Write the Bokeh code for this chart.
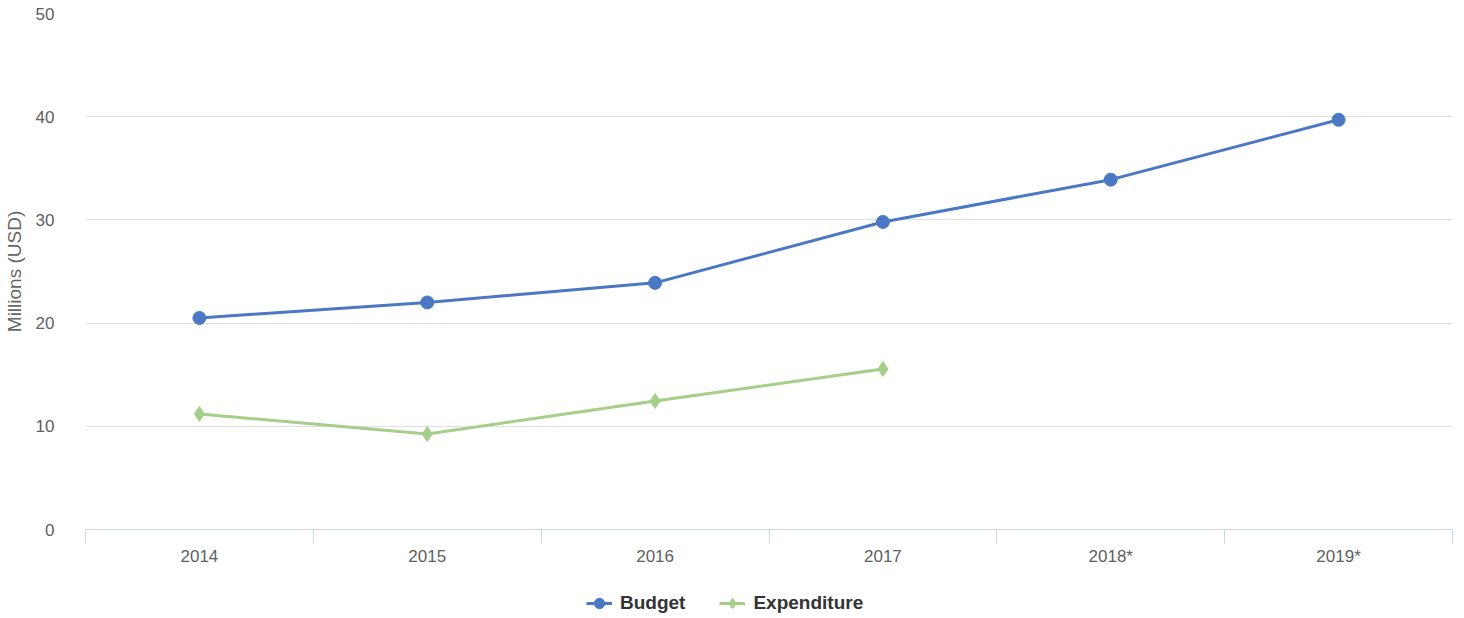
from bokeh.plotting import figure
from bokeh.layouts import column
from bokeh.models import FixedTicker, Legend, LegendItem, Range1d, ColumnDataSource
from bokeh.embed import file_html
from bokeh.resources import INLINE

years = ["2014", "2015", "2016", "2017", "2018*", "2019*"]
budget = [20.5, 22.0, 23.9, 29.8, 33.9, 39.7]
expenditure = [11.2, 9.25, 12.45, 15.55]
y_ticks = [0, 10, 20, 30, 40, 50]

FONT = "Liberation Sans"
BLUE = "#4a78c4"
GREEN = "#a5cf88"

xpos = [i + 0.5 for i in range(len(years))]

p = figure(width=1464, height=575, output_backend="svg", toolbar_location=None,
           x_range=Range1d(0, len(years)), y_range=Range1d(0, 50),
           min_border_left=85, min_border_right=12, min_border_top=13,
           min_border_bottom=46)
p.outline_line_color = None
p.background_fill_color = "white"

src_b = ColumnDataSource(dict(x=xpos, y=budget))
src_e = ColumnDataSource(dict(x=xpos[:len(expenditure)], y=expenditure))

p.line("x", "y", source=src_b, line_color=BLUE, line_width=3)
p.scatter("x", "y", source=src_b, marker="circle", size=13, fill_color=BLUE, line_color=BLUE)
p.line("x", "y", source=src_e, line_color=GREEN, line_width=3)
p.scatter("x", "y", source=src_e, marker="diamond", size=15, fill_color=GREEN, line_color=GREEN)

# x axis
xa = p.xaxis[0]
xa.ticker = FixedTicker(ticks=xpos, minor_ticks=list(range(len(years) + 1)))
xa.major_label_overrides = {x: y for x, y in zip(xpos, years)}
xa.major_tick_line_color = None
xa.major_tick_out = 6
xa.minor_tick_line_color = "#ccd6eb"
xa.minor_tick_in = 0
xa.minor_tick_out = 14
xa.axis_line_color = "#ccd6eb"
xa.axis_line_width = 1
xa.major_label_text_font = FONT
xa.major_label_text_font_size = "17px"
xa.major_label_text_color = "#606060"
xa.major_label_standoff = 3
p.xgrid.grid_line_color = None

# y axis
ya = p.yaxis[0]
ya.ticker = FixedTicker(ticks=y_ticks)
ya.axis_line_color = None
ya.major_tick_line_color = None
ya.minor_tick_line_color = None
ya.major_label_text_font = FONT
ya.major_label_text_font_size = "17px"
ya.major_label_text_color = "#606060"
ya.major_label_standoff = 25
ya.axis_label = "Millions (USD)"
ya.axis_label_text_font = FONT
ya.axis_label_text_font_size = "19px"
ya.axis_label_text_font_style = "normal"
ya.axis_label_text_color = "#666666"
ya.axis_label_standoff = 8
p.ygrid.grid_line_color = "#e0e0e0"
p.ygrid.grid_line_width = 1

# legend strip (same series, drawn outside its visible range so only the legend shows)
lg = figure(width=1464, height=56, output_backend="svg", toolbar_location=None,
            x_range=Range1d(-100, -99), y_range=Range1d(-100, -99),
            x_axis_type=None, y_axis_type=None,
            min_border_left=0, min_border_right=0, min_border_top=0, min_border_bottom=0)
lg.outline_line_color = None
lg.xgrid.grid_line_color = None
lg.ygrid.grid_line_color = None
lb = lg.line("x", "y", source=src_b, line_color=BLUE, line_width=3)
mb = lg.scatter("x", "y", source=src_b, marker="circle", size=11, fill_color=BLUE, line_color=BLUE)
le = lg.line("x", "y", source=src_e, line_color=GREEN, line_width=3)
me = lg.scatter("x", "y", source=src_e, marker="diamond", size=12, fill_color=GREEN, line_color=GREEN)

legend = Legend(items=[LegendItem(label="Budget", renderers=[lb, mb]),
                       LegendItem(label="Expenditure", renderers=[le, me])],
                orientation="horizontal", location=(501, 14),
                label_text_font=FONT, label_text_font_size="19px",
                label_text_font_style="bold", label_text_color="#333333",
                glyph_width=26, glyph_height=28, spacing=34, label_standoff=8,
                border_line_color=None, background_fill_alpha=0,
                padding=0, margin=0)
lg.add_layout(legend, "center")

layout = column(p, lg, spacing=0)
open("out.html", "w").write(file_html(layout, INLINE))
